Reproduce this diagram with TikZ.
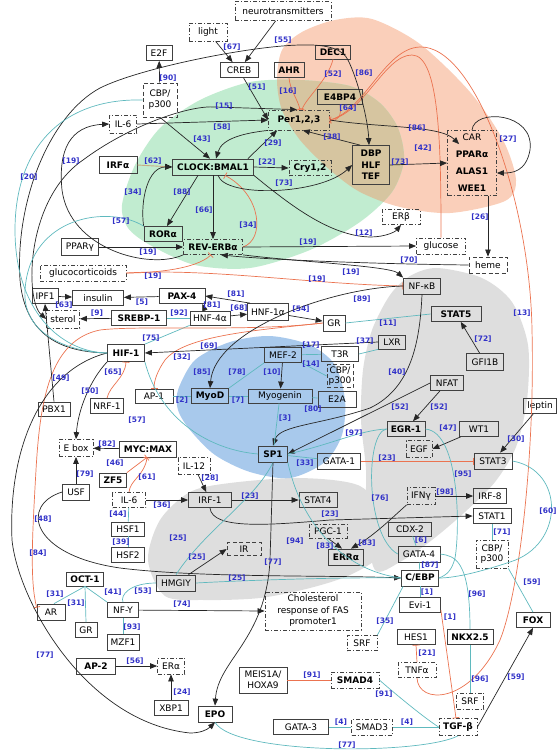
\documentclass[tikz,border=0pt]{standalone}
\usepackage{fontspec}
\setmainfont{DejaVu Sans}
\usetikzlibrary{arrows.meta,calc}
\definecolor{lblue}{RGB}{50,50,200}
\definecolor{orng}{RGB}{235,115,80}
\definecolor{tl}{RGB}{95,185,190}
\definecolor{pinkr}{RGB}{250,207,186}
\definecolor{greenr}{RGB}{193,236,208}
\definecolor{tanr}{RGB}{214,197,160}
\definecolor{grayr}{RGB}{222,222,222}
\definecolor{bluer}{RGB}{168,201,236}
\definecolor{tanl}{RGB}{200,170,130}
\tikzset{
 nb/.style={draw=black!75, line width=0.75pt, rectangle, inner sep=0.5pt, font=\fontsize{9}{11}\selectfont, align=center},
 bd/.style={nb, font=\fontsize{9}{11}\selectfont\bfseries},
 dd/.style={dash pattern=on 4pt off 2pt on 1pt off 2pt},
 ds/.style={dash pattern=on 4pt off 2.5pt},
 bw/.style={minimum width=#1pt},
 bh/.style={minimum height=#1pt},
 lb/.style={font=\fontsize{7.5}{8}\selectfont\bfseries, text=lblue, inner sep=0pt},
 act/.style={draw=black!85, line width=0.7pt, -{Triangle[length=7pt,width=5.5pt]}},
 inh/.style={draw=orng, line width=0.7pt, -{Bar[width=7pt]}},
 itr/.style={draw=tl, line width=0.7pt},
}
\begin{document}
\begin{tikzpicture}[x=1pt,y=-1pt]
\useasboundingbox (0,0) rectangle (560,753);
% regions
\fill[grayr] plot[smooth cycle] coordinates {(437,268) (482,278) (512,302) (528,345) (527,400) (516,447) (495,482) (465,512) (432,540) (400,562) (375,570) (366,520) (366,470) (361,420) (363,370) (372,330) (390,295) (410,276)};
\fill[grayr] plot[smooth cycle] coordinates {(148,560) (160,520) (190,492) (230,483) (300,478) (360,486) (385,520) (380,555) (350,575) (310,588) (260,598) (205,600) (165,596)};
\fill[bluer] plot[smooth cycle] coordinates {(178,390) (195,360) (230,342) (270,336) (310,345) (335,365) (345,400) (342,435) (325,462) (290,478) (250,472) (215,455) (190,430) (178,410)};
\fill[pinkr] plot[smooth cycle] coordinates {(277,80) (282,50) (302,32) (335,20) (372,19) (420,44) (470,92) (503,140) (516,180) (505,201) (450,213) (400,207) (360,192) (330,170) (300,140) (282,110)};
\fill[greenr] plot[smooth cycle] coordinates {(122,205) (135,165) (160,128) (200,100) (250,82) (300,80) (350,86) (380,103) (398,128) (404,160) (392,192) (360,222) (310,250) (250,268) (195,265) (150,245) (128,228)};
\begin{scope}
\clip plot[smooth cycle] coordinates {(277,80) (282,50) (302,32) (335,20) (372,19) (420,44) (470,92) (503,140) (516,180) (505,201) (450,213) (400,207) (360,192) (330,170) (300,140) (282,110)};
\fill[tanr] plot[smooth cycle] coordinates {(122,205) (135,165) (160,128) (200,100) (250,82) (300,80) (350,86) (380,103) (398,128) (404,160) (392,192) (360,222) (310,250) (250,268) (195,265) (150,245) (128,228)};
\end{scope}
% nodes
\node[nb,bw=26,bh=15] (E2F) at (159,53) {E2F};
\node[nb,ds,bw=34,bh=34] (cbp1) at (160,100) {CBP/\\p300};
\node[nb,dd,bw=27,bh=18] (il6a) at (123,124) {IL-6};
\node[bd,bw=38,bh=17] (irfa) at (118,165) {IRFα};
\node[bd,bw=81,bh=16] (clock) at (213,167) {CLOCK:BMAL1};
\node[nb,dd,bw=96,bh=19] (neuro) at (283,11) {neurotransmitters};
\node[nb,dd,bw=38,bh=18] (light) at (208,32) {light};
\node[nb,bw=38,bh=15] (creb) at (239,70) {CREB};
\node[bd,bw=35,bh=14] (dec1) at (333,52) {DEC1};
\node[bd,bw=30,bh=15] (ahr) at (289,70) {AHR};
\node[bd,bw=45,bh=15] (e4bp4) at (340,97) {E4BP4};
\node[bd,dd,bw=61,bh=20] (per) at (299,120) {Per1,2,3};
\node[bd,dd,bw=42,bh=15] (cry) at (310,168) {Cry1,2};
\node[bd,bw=37,bh=39,font=\fontsize{9}{11.5}\selectfont\bfseries] (dbp) at (371,165) {DBP\\HLF\\TEF};
\node[nb,dd,bw=49,bh=65] (car) at (472,163) {CAR\\[6pt]\textbf{PPARα}\\[6pt]\textbf{ALAS1}\\[6pt]\textbf{WEE1}};
\node[bd,bw=38,bh=15] (rora) at (163,234) {RORα};
\node[nb,bw=37,bh=17] (ppg) at (80,247) {PPARγ};
\node[bd,dd,bw=59,bh=15] (rev) at (213,247) {REV-ERBα};
\node[nb,dd,bw=86,bh=16] (gluc) at (83,273) {glucocorticoids};
\node[nb,dd,bw=38,bh=15] (erb) at (401,217) {ERβ};
\node[nb,dd,bw=49,bh=16] (glucose) at (441,246) {glucose};
\node[nb,ds,bw=38,bh=16] (heme) at (488,265) {heme};
\node[nb,bw=37,bh=16] (nfkb) at (422,286) {NF-κB};
\node[nb,bw=26,bh=15] (ipf1) at (45,296) {IPF1};
\node[nb,bw=51,bh=15] (insulin) at (98,298) {insulin};
\node[bd,bw=46,bh=15] (pax4) at (182,296) {PAX-4};
\node[nb,dd,bw=33,bh=18] (sterol) at (63,319) {sterol};
\node[bd,bw=55,bh=15] (srebp) at (139,318) {SREBP-1};
\node[nb,bw=40,bh=14] (hnf4) at (210,318) {HNF-4α};
\node[nb,bw=41,bh=17] (hnf1) at (268,312) {HNF-1α};
\node[nb,bw=22,bh=16] (gr1) at (334,323) {GR};
\node[bd,bw=50,bh=15] (stat5) at (456,314) {STAT5};
\node[nb,bw=27,bh=14] (lxr) at (392,342) {LXR};
\node[nb,bw=37,bh=17] (gfi1b) at (485,362) {GFI1B};
\node[bd,bw=37,bh=17] (hif1) at (126,353) {HIF-1};
\node[nb,bw=37,bh=15] (mef2) at (283,355) {MEF-2};
\node[nb,bw=37,bh=15] (t3r) at (340,354) {T3R};
\node[nb,ds,bw=26,bh=23,font=\fontsize{9}{10}\selectfont] (cbp2) at (340,376) {CBP/\\p300};
\node[nb,bw=33,bh=15] (nfat) at (447,383) {NFAT};
\node[nb,bw=32,bh=14] (pbx1) at (54,409) {PBX1};
\node[nb,bw=33,bh=15] (nrf1) at (107,406) {NRF-1};
\node[nb,bw=38,bh=14] (ap1) at (154,396) {AP-1};
\node[bd,bw=37,bh=15] (myod) at (210,396) {MyoD};
\node[nb,bw=64,bh=14] (myog) at (280,396) {Myogenin};
\node[nb,bw=38,bh=16] (e2a) at (337,399) {E2A};
\node[nb,bw=33,bh=15] (leptin) at (540,406) {leptin};
\node[bd,bw=38,bh=15] (egr1) at (406,429) {EGR-1};
\node[nb,bw=39,bh=15] (wt1) at (479,429) {WT1};
\node[nb,dd,bw=34,bh=17] (ebox) at (76,448) {E box};
\node[bd,bw=57,bh=16] (mycmax) at (148,449) {MYC:MAX};
\node[nb,dd,bw=26,bh=17] (egf) at (419,449) {EGF};
\node[bd,bw=29,bh=16] (sp1) at (273,454) {SP1};
\node[nb,bw=43,bh=16] (gata1) at (339,461) {GATA-1};
\node[nb,bw=38,bh=16] (stat3) at (493,461) {STAT3};
\node[nb,dd,bw=32,bh=17] (il12) at (194,466) {IL-12};
\node[bd,bw=27,bh=14] (zf5) at (113,480) {ZF5};
\node[nb,bw=27,bh=16] (usf) at (76,492) {USF};
\node[nb,dd,bw=33,bh=15] (il6b) at (129,500) {IL-6};
\node[nb,bw=43,bh=15] (irf1) at (210,500) {IRF-1};
\node[nb,bw=38,bh=15] (stat4) at (318,500) {STAT4};
\node[nb,dd,bw=28,bh=17] (ifng) at (421,496) {IFNγ};
\node[nb,bw=33,bh=15] (irf8) at (490,496) {IRF-8};
\node[nb,bw=38,bh=15] (stat1) at (492,516) {STAT1};
\node[nb,bw=33,bh=14] (hsf1) at (128,529) {HSF1};
\node[nb,bw=43,bh=14] (cdx2) at (410,529) {CDX-2};
\node[nb,dd,bw=38,bh=14] (pgc1) at (328,531) {PGC-1};
\node[nb,ds,bw=34,bh=13] (ir) at (244,549) {IR};
\node[bd,bw=35,bh=16] (erra) at (346,557) {ERRα};
\node[nb,bw=42,bh=16] (gata4) at (419,554) {GATA-4};
\node[nb,dd,bw=32,bh=28,font=\fontsize{9}{10}\selectfont] (cbp3) at (492,554) {CBP/\\p300};
\node[nb,bw=33,bh=15] (hsf2) at (128,555) {HSF2};
\node[bd,bw=37,bh=14] (oct1) at (85,579) {OCT-1};
\node[nb,bw=39,bh=16] (hmgiy) at (176,583) {HMGIY};
\node[bd,bw=37,bh=16] (cebp) at (420,578) {C/EBP};
\node[nb,bw=41,bh=15] (evi1) at (420,605) {Evi-1};
\node[nb,bw=28,bh=16] (ar) at (51,612) {AR};
\node[nb,bw=31,bh=15] (nfy) at (123,610) {NF-Y};
\node[nb,dd,bw=96,bh=38,font=\fontsize{9}{11.5}\selectfont] (chol) at (313,611) {Cholesterol\\response of FAS\\promoter1};
\node[bd,bw=34,bh=15] (fox) at (533,620) {FOX};
\node[nb,bw=22,bh=15] (gr2) at (86,630) {GR};
\node[nb,bw=38,bh=15] (hes1) at (416,637) {HES1};
\node[bd,bw=46,bh=15] (nkx) at (470,637) {NKX2.5};
\node[nb,bw=32,bh=16] (mzf1) at (123,642) {MZF1};
\node[nb,dd,bw=30,bh=15] (srf1) at (362,643) {SRF};
\node[bd,bw=39,bh=16] (ap2) at (96,666) {AP-2};
\node[nb,dd,bw=27,bh=16] (era) at (171,666) {ERα};
\node[nb,dd,bw=38,bh=15] (tnfa) at (417,670) {TNFα};
\node[nb,bw=48,bh=26,font=\fontsize{9}{11}\selectfont] (meis) at (263,680) {MEIS1A/\\HOXA9};
\node[bd,dd,bw=48,bh=16] (smad4) at (355,680) {SMAD4};
\node[nb,dd,bw=27,bh=16] (srf2) at (470,701) {SRF};
\node[nb,bw=34,bh=15] (xbp1) at (171,708) {XBP1};
\node[bd,bw=34,bh=16] (epo) at (215,714) {EPO};
\node[nb,bw=55,bh=15] (gata3) at (301,727) {GATA-3};
\node[nb,dd,bw=41,bh=16] (smad3) at (372,727) {SMAD3};
\node[bd,dd,bw=38,bh=17] (tgfb) at (458,727) {TGF-β};
% edges top
\draw[act] (light) -- (creb);
\draw[act] (neuro) -- (creb);
\draw[act] (creb) -- (per.west);
\draw[inh] (ahr.south) .. controls (290,90) and (298,100) .. ($(per.north)+(1,0)$);
\draw[inh] (dec1.south) .. controls (328,80) and (306,98) .. ($(per.north)+(3,0)$);
\draw[inh] (e4bp4.south) .. controls (342,115) and (338,122) .. (per.east);
\draw[inh] (tnfa.south) .. controls (418,705) and (470,705) .. (500,640) .. controls (520,590) and (535,450) .. (532,330) .. controls (530,200) and (475,45) .. (420,47) .. controls (385,48) and (365,110) .. (per.east);
\draw[inh] (glucose.north) .. controls (441,150) and (440,55) .. (412,55) .. controls (385,55) and (365,112) .. (per.east);
\draw[act] (cbp1) -- (E2F);
\draw[act] (cbp1.south) -- ($(clock.north)+(-3,0)$);
\draw[act] (per.south west) .. controls (245,133) and (222,138) .. ($(clock.north)+(3,0)$);
\draw[act] (il6a.east) -- (per.west);
\draw[draw=tanl,line width=0.9pt,-{Triangle[length=7pt,width=5.5pt,color=black]}] (irfa.east) -- (clock.west);
\draw[act] (rora.north west) .. controls (140,200) and (148,167) .. (clock.west);
\draw[act] ($(clock.south)+(-15,0)$) -- ($(rora.north)+(4,0)$);
\draw[act] (clock.south) -- (rev.north);
\draw[inh] (rev.east) .. controls (265,240) and (262,195) .. ($(clock.south)+(12,0)$);
\draw[act] (clock.east) -- (cry.west);
\draw[act] ($(clock.north east)+(-6,0)$) -- ($(per.south west)+(9,0)$);
\draw[act] ($(clock.south)+(5,0)$) .. controls (225,198) and (320,195) .. (dbp.west);
\draw[act] ($(dbp.north west)+(8,0)$) -- ($(per.south east)+(-27,0)$);
\draw[act] (dbp.east) -- (car.west);
\draw[act] (car.north) .. controls (474,108) and (535,112) .. (530,150) .. controls (526,172) and (512,173) .. ($(car.east)+(0,10)$);
\draw[act] ($(car.south)+(16,0)$) -- (heme.north);
% long left arcs
\draw[draw=black!85, line width=0.7pt, {Triangle[length=7pt,width=5.5pt]}-{Triangle[length=7pt,width=5.5pt]}] (sterol.west) .. controls (25,300) and (25,200) .. (83,160) .. controls (130,125) and (190,105) .. (215,107) -- ($(per.north)+(-2,0)$);
\draw[act] (rev.south west) .. controls (150,270) and (70,250) .. (62,190) .. controls (58,150) and (70,126) .. (il6a.west);
\draw[draw=black!85, line width=0.7pt] (hif1.west) .. controls (60,352) and (25,335) .. (20,280) .. controls (15,200) and (50,115) .. (100,88) .. controls (140,68) and (250,46) .. (300,45) .. controls (330,44) and (343,50) .. (348,60);
\draw[act] (348,60) .. controls (358,80) and (368,120) .. ($(dbp.north)+(-2,0)$);
\draw[act] (per.east) .. controls (380,128) and (440,125) .. ($(car.north west)+(12,14)$);
% middle
\draw[act] (ppg) -- (rev.west);
\draw[inh] (gluc.east) .. controls (150,273) and (195,270) .. ($(rev.south)+(-2,0)$);
\draw[inh] (gluc.east) .. controls (210,268) and (310,284) .. (nfkb.west);
\draw[act] (rev.east) -- (glucose.west);
\draw[act] (heme.west) .. controls (380,264) and (270,260) .. ($(rev.south east)+(-22,0)$);
\draw[act] (rev.south east) .. controls (300,262) and (390,266) .. (nfkb.north west);
\draw[act] (clock.south east) .. controls (290,205) and (330,236) .. (370,237) .. controls (385,237) and (395,232) .. (erb.south);
\draw[act] (ipf1) -- (insulin);
\draw[act] (pax4) -- (insulin);
\draw[act] (srebp) -- (sterol);
\draw[itr] (srebp) -- (hnf4);
\draw[act] ($(hnf1.north west)+(3,0)$) -- (pax4.east);
\draw[act] ($(hnf4.north)+(-5,0)$) -- ($(pax4.south east)+(-3,0)$);
\draw[act] (hnf4) -- (hnf1);
\draw[act] (hnf1) -- (gr1);
\draw[itr] (hif1.north east) -- (hnf4.south west);
\draw[inh] (gr1.west) .. controls (250,332) and (140,325) .. (100,330) .. controls (50,340) and (40,400) .. (36,470) .. controls (32,540) and (30,580) .. ($(ar.north west)+(0,4)$);
\draw[inh] (gr1.west) .. controls (260,330) and (185,335) .. (165,360) .. controls (158,370) and (154,380) .. (ap1.north);
\draw[act] (lxr.west) -- (hif1.east);
\draw[act] (nfkb.west) .. controls (330,288) and (215,330) .. (myod.north);
\draw[itr] (gr1.east) -- (stat5.west);
\draw[itr] (t3r.east) -- (lxr.south west);
\draw[act] (gfi1b) -- (stat5);
\draw[act] (nfkb.south) .. controls (420,340) and (412,388) .. (370,408) .. controls (320,425) and (280,425) .. (sp1.north);
\draw[act] (nfat.west) -- (sp1.east);
\draw[act] (nfat) -- (egr1);
\draw[itr] (myog) -- (sp1);
\draw[itr] (myod) -- (myog);
\draw[act] (mef2) -- (myog);
\draw[itr] (mef2.south west) -- (myod.north east);
\draw[itr] (myog) -- (e2a);
\draw[itr] (mef2) -- (t3r);
\draw[itr] (mef2.south east) -- (cbp2.west);
\draw[itr] (sp1.east) .. controls (330,445) and (360,430) .. (egr1.west);
\draw[itr] (sp1) -- (gata1);
\draw[inh] (gata1) -- (stat3);
\draw[act] (wt1) -- (egf.east);
\draw[act] (leptin) -- (stat3);
\draw[itr] (egr1.west) .. controls (365,432) and (365,535) .. (gata4.west);
\draw[itr] (egr1.east) .. controls (460,432) and (460,530) .. (455,558) .. controls (452,570) and (447,575) .. (cebp.east);
\draw[itr] (stat3.east) .. controls (565,470) and (565,545) .. (510,562) .. controls (480,572) and (455,578) .. (cebp.east);
\draw[act] (ifng) -- (irf8);
\draw[act] (irf1) -- (stat4);
\draw[act] (irf1.south) .. controls (212,530) and (270,525) .. (330,520) -- (stat1.west);
\draw[act] (il12) -- (irf1);
\draw[act] (il6b) -- (irf1);
\draw[itr] (il6b) -- (hsf1);
\draw[itr] (hsf1) -- (hsf2);
\draw[inh] (zf5.north east) -- ($(mycmax.south)+(-1,0)$);
\draw[inh] (il6b.north) .. controls (130,480) and (145,475) .. ($(mycmax.south)+(-1,0)$);
\draw[act] (mycmax) -- (ebox);
\draw[act] (usf) -- (ebox);
\draw[act] (hif1.south west) .. controls (90,380) and (78,410) .. (ebox.north);
\draw[act] (pbx1.north) -- (ipf1.south);
\draw[inh] (nrf1.north) .. controls (110,385) and (125,378) .. (hif1.south);
\draw[act] (usf.west) .. controls (20,505) and (30,555) .. (120,568) .. controls (200,578) and (330,575) .. (cebp.west);
\draw[act] (hmgiy) -- (ir.west);
\draw[itr] (hmgiy.east) .. controls (250,580) and (350,577) .. (cebp.west);
\draw[itr] (hmgiy.north) .. controls (205,530) and (255,500) .. (sp1.south);
\draw[itr] (hmgiy.west) .. controls (130,583) and (120,595) .. (nfy.north);
\draw[itr] (oct1.south) -- (nfy.north west);
\draw[itr] (oct1.south) -- ($(ar.north)+(3,0)$);
\draw[itr] (oct1.south) -- (gr2.north);
\draw[itr] (nfy) -- (mzf1);
\draw[act] (nfy) -- (chol.west);
\draw[act] (ap2) -- (era);
\draw[act] (xbp1) -- (era);
\draw[act] (hif1.west) .. controls (40,370) and (8,450) .. (12,540) .. controls (18,600) and (85,722) .. (190,733) .. controls (200,733) and (207,730) .. (epo.south);
\draw[act] (sp1.south) -- (270,560) .. controls (266,640) and (218,660) .. (epo.north);
\draw[itr] (epo.south) .. controls (235,755) and (420,755) .. (tgfb.south);
\draw[itr] (gata3) -- (smad3);
\draw[itr] (smad3) -- (tgfb);
\draw[draw=orng,line width=0.7pt] (meis) -- (smad4);
\draw[itr] (smad4.east) .. controls (385,685) and (420,715) .. (tgfb.west);
\draw[inh] ($(evi1.east)+(0,5)$) -- ($(tgfb.north)+(-2,0)$);
\draw[itr] (cebp) -- (evi1);
\draw[inh] (tnfa.north) -- (hes1.south);
\draw[act] (tgfb.east) -- (fox.south);
\draw[itr] (fox.north) -- (cbp3.south east);
\draw[itr] (stat1) -- (cbp3);
\draw[itr] (cdx2) -- (gata4);
\draw[itr] (gata4) -- (cebp);
\draw[itr] ($(cebp.south west)+(2,0)$) -- (srf1.north east);
\draw[itr] (gata4.east) .. controls (455,556) and (470,560) .. (nkx.north);
\draw[itr] (nkx) -- (srf2);
\draw[act] (pgc1.south) -- ($(erra.north)+(-4,0)$);
\draw[act] (ifng.south west) .. controls (395,515) and (375,535) .. ($(erra.north)+(5,0)$);
\draw[itr] (hif1.south east) .. controls (160,420) and (210,450) .. (sp1.west);
\draw[itr] (rora.north west) .. controls (110,205) and (30,215) .. (25,290) .. controls (22,335) and (70,352) .. (hif1.west);
\draw[itr] (cbp1.west) .. controls (60,98) and (15,150) .. (15,230) .. controls (15,310) and (60,352) .. (hif1.west);
\draw[itr] (ap1) -- (myod);
\draw[itr] (sp1.south east) .. controls (300,520) and (340,570) .. (cebp.west);
% labels
\foreach \n/\x/\y/\t in {1/168/78/90,2/232/47/67,3/283/40/55,4/333/74/52,5/364/73/86,6/288/91/16,7/348/108/64,8/257/87/51,9/224/106/15,10/222/127/58,11/202/139/43,12/273/143/29,13/332/137/38,14/267/162/22,15/284/183/73,16/417/128/86,17/423/148/42,18/400/162/73,19/508/139/27,20/71/161/19,21/153/161/62,22/29/177/20,23/133/192/34,24/182/192/88,25/121/221/57,26/148/252/19,27/153/276/19,28/64/305/63,29/142/302/5,30/97/313/9,31/179/313/92,32/151/338/75,33/182/357/32,34/113/372/65,35/204/210/66,36/248/225/34,37/364/233/12,38/308/242/19,39/351/272/19,40/317/279/19,41/362/299/89,42/236/294/81,43/212/305/81,44/239/308/68,45/301/309/54,46/209/346/69,47/311/345/17,48/365/341/37,49/311/364/14,50/202/372/85,51/237/372/78,52/272/372/10,53/480/217/26,54/409/260/70,55/522/313/13,56/388/323/11,57/483/339/72,58/397/372/40,59/61/378/49,60/90/391/50,61/182/400/2,62/137/420/57,63/107/444/82,64/115/463/46,65/85/474/79,66/147/477/61,67/162/505/36,68/43/519/48,69/118/514/44,70/121/542/39,71/178/538/25,72/38/553/84,73/238/400/7,74/313/409/80,75/285/418/3,76/354/433/97,77/305/463/33,78/210/478/28,79/250/496/23,80/330/514/23,81/295/541/94,82/325/546/83,83/367/543/83,84/197/557/25,85/400/407/52,86/439/407/52,87/448/428/47,88/516/439/30,89/387/458/23,90/463/474/95,91/380/498/76,92/445/492/98,93/548/511/60,94/502/532/71,95/421/540/6,96/55/594/31,97/76/603/31,98/113/592/41,99/143/591/53,100/182/604/74,101/132/627/93,102/45/655/77,103/135/661/56,104/182/692/24,105/273/562/77,106/237/578/25,107/312/675/91,108/341/722/4,109/347/745/77,110/430/565/87,111/532/582/59,112/427/592/1,113/477/594/96,114/450/617/1,115/385/621/35,116/427/653/21,117/480/679/96,118/516/677/59,119/384/694/91,120/407/722/4}
  \node[lb] (L\n) at (\x,\y) {[\t]};
\end{tikzpicture}
\end{document}
